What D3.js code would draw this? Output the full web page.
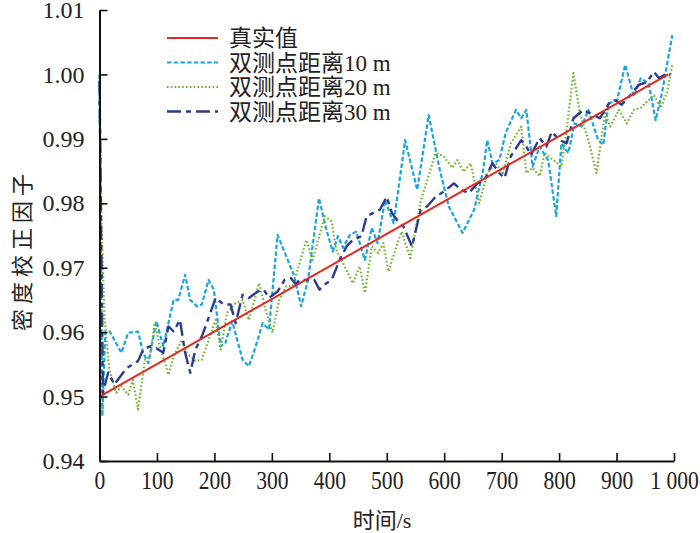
<!DOCTYPE html>
<html>
<head>
<meta charset="utf-8">
<script src="https://cdn.jsdelivr.net/npm/d3@7"></script>
<style>
body { margin: 0; background: #fff; }
text { font-family: "Liberation Serif", "Noto Sans CJK SC", serif; fill: #222; }
</style>
</head>
<body>
<div id="plot"></div>
<script>
var width = 700;
var height = 533;

// tick labels
var xTicks = [0, 100, 200, 300, 400, 500, 600, 700, 800, 900, 1000];
var xTickLabels = ["0", "100", "200", "300", "400", "500", "600", "700", "800", "900", "1 000"];
var yTicks = [0.94, 0.95, 0.96, 0.97, 0.98, 0.99, 1.00, 1.01];
var yTickLabels = ["0.94", "0.95", "0.96", "0.97", "0.98", "0.99", "1.00", "1.01"];

var seriesNames = ["真实值", "双测点距离10 m", "双测点距离20 m", "双测点距离30 m"];

// true value
var trueTime = [0, 990];
var trueVal = [0.95, 1.0];

// 10 m
var d10Time = [0, 5, 10, 18, 38, 50, 67, 76, 85, 99, 111, 129, 137, 149, 158, 170, 178, 190, 199, 211, 219, 231, 249, 260, 272, 284, 295, 310, 325, 339, 351, 363, 382, 395, 406, 415, 424, 436, 447, 462, 474, 484, 497, 512, 532, 553, 573, 591, 608, 632, 652, 667, 675, 684, 696, 707, 725, 734, 743, 754, 766, 781, 795, 804, 816, 827, 839, 851, 868, 877, 886, 901, 915, 930, 942, 956, 968, 979, 997];
var d10Val = [1.000, 0.947, 0.960, 0.9601, 0.9568, 0.9599, 0.9601, 0.9568, 0.9552, 0.9617, 0.9578, 0.965, 0.965, 0.9689, 0.965, 0.964, 0.9643, 0.9681, 0.9666, 0.9578, 0.9583, 0.9617, 0.9557, 0.9547, 0.9578, 0.9614, 0.9604, 0.9751, 0.9718, 0.9687, 0.964, 0.9681, 0.9808, 0.9759, 0.9725, 0.9749, 0.9731, 0.9751, 0.9756, 0.9712, 0.9762, 0.9738, 0.9805, 0.9769, 0.9898, 0.9821, 0.9937, 0.9857, 0.9795, 0.9754, 0.979, 0.9847, 0.9898, 0.9862, 0.9867, 0.9909, 0.9945, 0.9932, 0.9945, 0.9857, 0.9888, 0.9867, 0.978, 0.9893, 0.9878, 0.9924, 0.9919, 0.9945, 0.9898, 0.9891, 0.9955, 0.996, 1.0015, 0.9966, 0.9994, 0.9986, 0.9929, 0.9971, 1.0061];

// 20 m
var d20Time = [0, 4, 9, 17, 29, 38, 50, 58, 67, 79, 88, 96, 105, 120, 129, 143, 152, 167, 178, 190, 202, 211, 222, 237, 249, 260, 278, 289, 301, 313, 325, 336, 345, 360, 371, 392, 404, 412, 424, 441, 453, 462, 474, 485, 494, 503, 515, 526, 541, 559, 585, 599, 614, 623, 634, 646, 661, 675, 690, 702, 716, 734, 743, 754, 766, 775, 804, 813, 825, 836, 851, 865, 880, 889, 904, 918, 930, 942, 953, 965, 977, 988, 997];
var d20Val = [0.997, 0.975, 0.9619, 0.9542, 0.9506, 0.9516, 0.9503, 0.9526, 0.948, 0.9557, 0.9562, 0.9614, 0.9578, 0.9534, 0.9562, 0.9588, 0.9568, 0.9555, 0.9557, 0.9588, 0.9619, 0.9573, 0.963, 0.9645, 0.965, 0.9619, 0.9676, 0.9635, 0.9599, 0.965, 0.9671, 0.9671, 0.9697, 0.9743, 0.9712, 0.978, 0.9772, 0.9728, 0.9707, 0.9676, 0.9702, 0.9661, 0.9733, 0.9723, 0.9738, 0.9694, 0.9728, 0.9756, 0.9715, 0.9803, 0.9878, 0.9873, 0.9855, 0.9867, 0.9849, 0.9862, 0.98, 0.9847, 0.9862, 0.9847, 0.9893, 0.9919, 0.9847, 0.9855, 0.9842, 0.9878, 0.9857, 0.9914, 1.0002, 0.994, 0.9898, 0.9847, 0.994, 0.9919, 0.9945, 0.9924, 0.9945, 0.9948, 0.9958, 0.9968, 0.9948, 0.9973, 1.0015];

// 30 m
var d30Time = [0, 6, 15, 26, 47, 67, 76, 88, 99, 111, 120, 129, 140, 149, 158, 167, 178, 193, 202, 216, 228, 237, 249, 260, 275, 286, 295, 310, 322, 333, 342, 348, 374, 383, 395, 404, 418, 430, 441, 456, 465, 477, 488, 500, 509, 518, 529, 544, 559, 570, 585, 599, 617, 629, 643, 658, 670, 684, 696, 705, 716, 734, 743, 751, 766, 778, 787, 801, 813, 825, 842, 860, 871, 889, 898, 909, 927, 939, 953, 965, 974, 988, 994];
var d30Val = [0.999, 0.9506, 0.9537, 0.9519, 0.9544, 0.9555, 0.9573, 0.9578, 0.9575, 0.9568, 0.9609, 0.9601, 0.9619, 0.9568, 0.9537, 0.9573, 0.9593, 0.963, 0.9653, 0.9643, 0.9643, 0.9614, 0.9658, 0.9653, 0.9663, 0.9666, 0.9653, 0.9663, 0.9681, 0.9684, 0.9674, 0.9681, 0.9681, 0.9666, 0.9676, 0.9681, 0.9712, 0.9733, 0.9743, 0.9749, 0.978, 0.9785, 0.979, 0.981, 0.9785, 0.9774, 0.9764, 0.9733, 0.979, 0.9795, 0.981, 0.9818, 0.9831, 0.9821, 0.9816, 0.9831, 0.9836, 0.9862, 0.9847, 0.9839, 0.9873, 0.9898, 0.9888, 0.9875, 0.9901, 0.9888, 0.9911, 0.9898, 0.9893, 0.9932, 0.9945, 0.9937, 0.9932, 0.9958, 0.996, 0.9953, 0.9971, 0.9984, 0.9988, 1.0004, 0.9994, 1.0002, 0.9999];

var styles = [
  {color: "#e8261f", dash: null, w: 2},
  {color: "#1ba4de", dash: "4.5,2.2", w: 2.2},
  {color: "#6fb52b", dash: "1.6,2.2", w: 2.2},
  {color: "#2c3a8f", dash: "14,5,5,5", w: 2.4}
];

var series = [
  {time: trueTime, val: trueVal},
  {time: d10Time, val: d10Val},
  {time: d20Time, val: d20Val},
  {time: d30Time, val: d30Val}
];

var x = d3.scaleLinear().domain([0, 1000]).range([99.5, 674]);
var y = d3.scaleLinear().domain([0.94, 1.01]).range([461, 10]);

var svg = d3.select("div#plot")
  .append("svg")
  .attr("width", width)
  .attr("height", height);

var line = d3.line()
  .x(function(d){ return x(d[0]); })
  .y(function(d){ return y(d[1]); });

// 10, 20, 30 m first, true value on top
var order = [1, 2, 3, 0];
order.forEach(function(i){
  var pts = series[i].time.map(function(t, k){ return [t, series[i].val[k]]; });
  svg.append("path")
    .datum(pts)
    .attr("d", line)
    .attr("fill", "none")
    .attr("stroke", styles[i].color)
    .attr("stroke-width", styles[i].w)
    .attr("stroke-dasharray", styles[i].dash)
    .attr("stroke-linejoin", "round");
});

// axes
var xAxis = d3.axisBottom(x)
  .tickValues(xTicks)
  .tickFormat(function(d, i){ return xTickLabels[i]; })
  .tickSize(-8)
  .tickSizeOuter(0)
  .tickPadding(9.5);

var yAxis = d3.axisLeft(y)
  .tickValues(yTicks)
  .tickFormat(function(d, i){ return yTickLabels[i]; })
  .tickSize(-8)
  .tickSizeOuter(0)
  .tickPadding(15);

var gx = svg.append("g")
  .attr("transform", "translate(0," + y(0.94) + ")")
  .call(xAxis);
var gy = svg.append("g")
  .attr("transform", "translate(" + x(0) + ",0)")
  .call(yAxis);

[gx, gy].forEach(function(g){
  g.select(".domain").attr("stroke", "#111").attr("stroke-width", 2);
  g.selectAll(".tick line").attr("stroke", "#111").attr("stroke-width", 1.6);
  g.selectAll(".tick text")
    .style("font-family", "'Liberation Serif', serif")
    .attr("fill", "#222");
});
gy.selectAll(".tick text").style("font-size", "24px");
// x labels are a bit taller and narrower
gx.selectAll(".tick text")
  .style("font-size", "26px")
  .attr("transform", "scale(0.83,1)");

// axis titles
svg.append("text")
  .attr("x", 382)
  .attr("y", 528)
  .attr("text-anchor", "middle")
  .style("font-size", "22px")
  .text("时间/s");

svg.append("text")
  .attr("transform", "translate(30,250) rotate(-90)")
  .attr("text-anchor", "middle")
  .style("font-size", "22px")
  .style("letter-spacing", "5px")
  .text("密度校正因子");

// legend
var legendY = [38, 62.5, 87, 111.5];
seriesNames.forEach(function(name, i){
  svg.append("line")
    .attr("x1", 167).attr("x2", 218)
    .attr("y1", legendY[i]).attr("y2", legendY[i])
    .attr("stroke", styles[i].color)
    .attr("stroke-width", styles[i].w)
    .attr("stroke-dasharray", styles[i].dash);
  svg.append("text")
    .attr("x", 229)
    .attr("y", legendY[i] + 8)
    .style("font-size", "23px")
    .text(name);
});
</script>
</body>
</html>
